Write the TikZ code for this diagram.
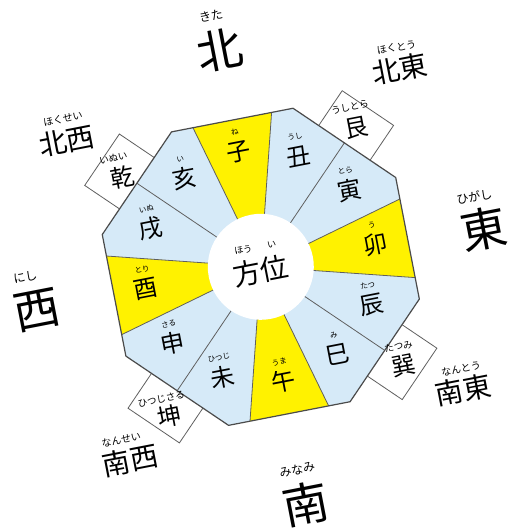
\documentclass[tikz,border=0pt]{standalone}
\usepackage{fontspec}
\setmainfont{Noto Sans CJK JP}
\definecolor{lblue}{RGB}{214,234,248}
\definecolor{ylw}{RGB}{255,242,0}
\definecolor{edgec}{RGB}{75,75,75}
\definecolor{divc}{RGB}{95,95,95}
\begin{document}
\begin{tikzpicture}[x=1pt,y=1pt,
  every node/.style={inner sep=0pt, transform shape},
  kj/.style={font=\fontsize{24}{24}\selectfont},
  fg/.style={font=\fontsize{7.5}{8}\selectfont},
  bigk/.style={font=\fontsize{46}{46}\selectfont},
  bigf/.style={font=\fontsize{12}{12}\selectfont},
  midk/.style={font=\fontsize{28}{28}\selectfont},
  midf/.style={font=\fontsize{10}{10}\selectfont},
  boxk/.style={font=\fontsize{24}{24}\selectfont},
  boxf/.style={font=\fontsize{9.5}{10}\selectfont},
  octline/.style={draw=edgec, line width=1.2pt, line join=round},
  divline/.style={draw=divc, line width=0.8pt},
  boxline/.style={draw=divc, line width=0.8pt, fill=white}]
\useasboundingbox (0,0) rectangle (513,-531);
\fill[white] (0,0) rectangle (513,-531);
\begin{scope}[shift={(260.8,-266.8)}, rotate=11]
  % outer boxes
  \foreach \a in {45,135,225,315} {
    \begin{scope}[rotate=\a-90]
      \path[boxline] (-31,140) rectangle (31,191.5);
    \end{scope}
  }
  % sectors
  \begin{scope}
    \clip (112.5:161.8) -- (67.5:161.8) -- (22.5:161.8) -- (-22.5:161.8) -- (-67.5:161.8) -- (-112.5:161.8) -- (-157.5:161.8) -- (157.5:161.8) -- cycle;
    \foreach \c in {60,30,-30,-60,-120,-150,150,120}
      \fill[lblue] (0,0) -- (\c+15:250) -- (\c:250) -- (\c-15:250) -- cycle;
    \foreach \c in {90,0,-90,180}
      \fill[ylw] (0,0) -- (\c+15:250) -- (\c:250) -- (\c-15:250) -- cycle;
    \foreach \c in {0,...,11}
      \draw[divline] (15+30*\c:52) -- (15+30*\c:250);
  \end{scope}
  \path[octline] (112.5:161.8) -- (67.5:161.8) -- (22.5:161.8) -- (-22.5:161.8) -- (-67.5:161.8) -- (-112.5:161.8) -- (-157.5:161.8) -- (157.5:161.8) -- cycle;
  \fill[white] (0,0) circle (53);
  % centre
  \node[font=\fontsize{28}{28}\selectfont] (hoi) at (-1,-4) {方位};
  \node[font=\fontsize{9}{9}\selectfont] (hoif1) at (-14,20) {ほう};
  \node[font=\fontsize{9}{9}\selectfont] (hoif2) at (15,20) {い};
  % zodiac sectors
  \foreach \a/\k/\f/\n in {90/子/ね/1, 60/丑/うし/2, 30/寅/とら/3, 0/卯/う/4, -30/辰/たつ/5, -60/巳/み/6, -90/午/うま/7, -120/未/ひつじ/8, -150/申/さる/9, 180/酉/とり/10, 150/戌/いぬ/11, 120/亥/い/12} {
    \node[kj] (z\n) at (\a:117) {\k};
    \path (\a:117) ++(0,20) node[fg] (zf\n) {\f};
  }
  % boxes text
  \node[boxk] (gon) at (121,118) {艮};
  \node[boxf] (gonf) at (118,139.5) {うしとら};
  \node[boxk] (son) at (121,-124.5) {巽};
  \node[boxf] (sonf) at (120,-104.5) {たつみ};
  \node[boxk] (ken) at (-119,114.5) {乾};
  \node[boxf] (kenf) at (-124,135) {いぬい};
  \node[boxk] (kon) at (-118,-129.5) {坤};
  \node[boxf] (konf) at (-123,-111) {ひつじさる};
  % cardinal directions
  \node[bigk] (n) at (1,221) {北};
  \node[bigf] (nf) at (-1,256) {きた};
  \node[bigk] (e) at (226,-5.5) {東};
  \node[bigf] (ef) at (223,28) {ひがし};
  \node[bigk] (s) at (-1,-241) {南};
  \node[bigf] (sf) at (-3,-206) {みなみ};
  \node[bigk] (w) at (-228,0) {西};
  \node[bigf] (wf) at (-233,35) {にし};
  % intercardinal
  \node[midk] (ne) at (174,168) {北東};
  \node[midf] (nef) at (175,189.5) {ほくとう};
  \node[midk] (nw) at (-166.5,160.5) {北西};
  \node[midf] (nwf) at (-166,183) {ほくせい};
  \node[midk] (se) at (175,-159.5) {南東};
  \node[midf] (sef) at (177,-138.5) {なんとう};
  \node[midk] (sw) at (-165,-165) {南西};
  \node[midf] (swf) at (-170,-143) {なんせい};
\end{scope}
\end{tikzpicture}
\end{document}
